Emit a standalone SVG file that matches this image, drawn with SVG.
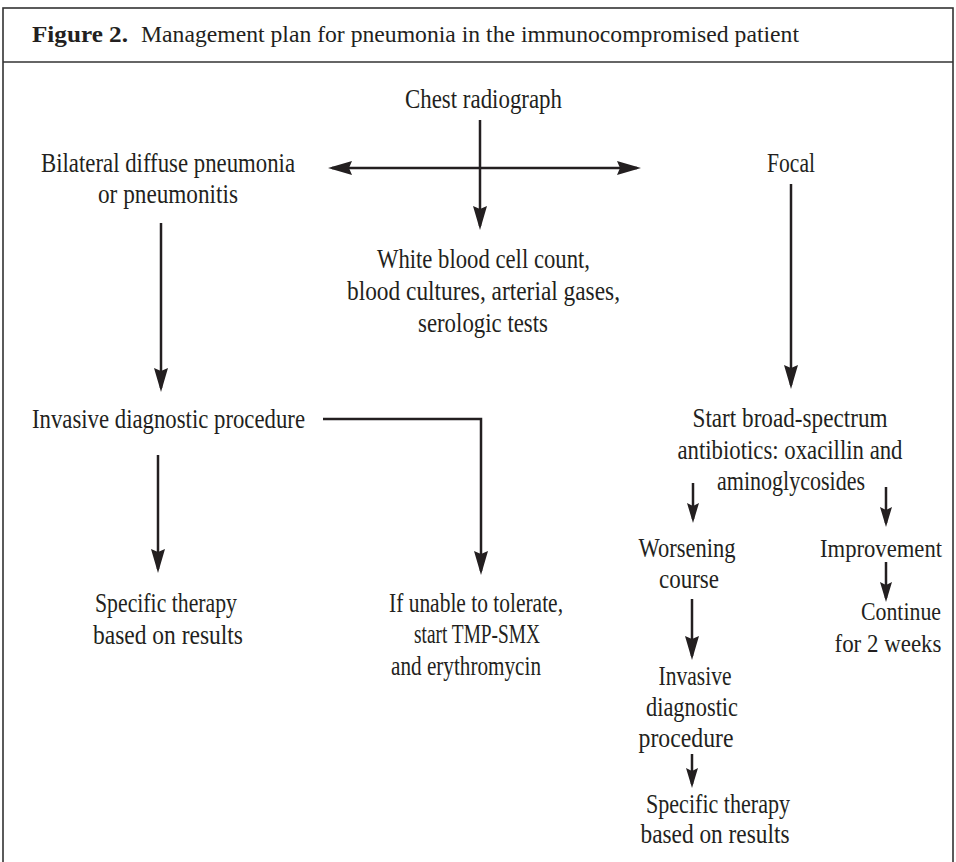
<svg xmlns="http://www.w3.org/2000/svg" width="956" height="862" viewBox="0 0 956 862">
<style>
  .t { font-family: "Liberation Serif", "Times New Roman", serif; font-size: 27px; fill: #231f20; text-anchor: middle; }
  .s { font-size: 25px; }
  .title { font-family: "Liberation Serif", "Times New Roman", serif; font-size: 24px; fill: #231f20; }
  .b { font-weight: bold; }
  .c { fill: none; stroke: #231f20; stroke-width: 2.5; }
  .frame { fill: none; stroke: #333333; stroke-width: 1.6; }
</style>
<defs>
  <marker id="ah" viewBox="0 0 24 14" markerWidth="24" markerHeight="14" refX="20" refY="7" orient="auto-start-reverse" markerUnits="userSpaceOnUse">
    <path d="M0,0 L24,7 L0,14 L3,7 Z" fill="#231f20"/>
  </marker>
  <marker id="ahs" viewBox="0 0 20 12" markerWidth="20" markerHeight="12" refX="16" refY="6" orient="auto" markerUnits="userSpaceOnUse">
    <path d="M0,0 L20,6 L0,12 L3,6 Z" fill="#231f20"/>
  </marker>
</defs>

<g id="frame">
  <rect class="frame" x="3" y="8" width="950" height="880"/>
  <line class="frame" x1="3" y1="62" x2="953" y2="62"/>
</g>

<g id="title">
  <text class="title" y="42"><tspan class="b" x="32" textLength="96" lengthAdjust="spacingAndGlyphs">Figure 2.</tspan><tspan x="141" textLength="658" lengthAdjust="spacingAndGlyphs">Management plan for pneumonia in the immunocompromised patient</tspan></text>
</g>

<g id="connectors">
  <line class="c" x1="332" y1="168" x2="637" y2="168" marker-start="url(#ah)" marker-end="url(#ah)"/>
  <line class="c" x1="480" y1="120" x2="480" y2="226" marker-end="url(#ah)"/>
  <line class="c" x1="161" y1="223" x2="161" y2="388" marker-end="url(#ah)"/>
  <line class="c" x1="791" y1="184" x2="791" y2="385" marker-end="url(#ah)"/>
  <polyline class="c" points="323,419 481,419 481,571" marker-end="url(#ah)"/>
  <line class="c" x1="158" y1="455" x2="158" y2="569" marker-end="url(#ah)"/>
  <line class="c" x1="693" y1="483" x2="693" y2="519" marker-end="url(#ahs)"/>
  <line class="c" x1="886" y1="487" x2="886" y2="523" marker-end="url(#ahs)"/>
  <line class="c" x1="886" y1="562" x2="886" y2="598" marker-end="url(#ahs)"/>
  <line class="c" x1="692" y1="599" x2="692" y2="656" marker-end="url(#ah)"/>
  <line class="c" x1="692" y1="754" x2="692" y2="784" marker-end="url(#ahs)"/>
</g>

<g id="chest">
  <text class="t" x="483.5" y="108" textLength="157" lengthAdjust="spacingAndGlyphs">Chest radiograph</text>
</g>
<g id="bilateral">
  <text class="t" x="168" y="172" textLength="254" lengthAdjust="spacingAndGlyphs">Bilateral diffuse pneumonia</text>
  <text class="t" x="168" y="203" textLength="140" lengthAdjust="spacingAndGlyphs">or pneumonitis</text>
</g>
<g id="focal">
  <text class="t" x="791" y="172" textLength="48" lengthAdjust="spacingAndGlyphs">Focal</text>
</g>
<g id="tests">
  <text class="t" x="483.5" y="268" textLength="213" lengthAdjust="spacingAndGlyphs">White blood cell count,</text>
  <text class="t" x="483.5" y="300" textLength="273" lengthAdjust="spacingAndGlyphs">blood cultures, arterial gases,</text>
  <text class="t" x="483" y="332" textLength="130" lengthAdjust="spacingAndGlyphs">serologic tests</text>
</g>
<g id="invasive1">
  <text class="t" x="168.5" y="428" textLength="273" lengthAdjust="spacingAndGlyphs">Invasive diagnostic procedure</text>
</g>
<g id="specific1">
  <text class="t" x="166" y="612" textLength="142" lengthAdjust="spacingAndGlyphs">Specific therapy</text>
  <text class="t" x="168" y="644" textLength="150" lengthAdjust="spacingAndGlyphs">based on results</text>
</g>
<g id="unable">
  <text class="t" x="476" y="612" textLength="174" lengthAdjust="spacingAndGlyphs">If unable to tolerate,</text>
  <text class="t" x="477" y="643" textLength="126" lengthAdjust="spacingAndGlyphs">start TMP-SMX</text>
  <text class="t" x="466" y="675" textLength="150" lengthAdjust="spacingAndGlyphs">and erythromycin</text>
</g>
<g id="broad">
  <text class="t" x="790" y="427" textLength="195" lengthAdjust="spacingAndGlyphs">Start broad-spectrum</text>
  <text class="t" x="790" y="459" textLength="225" lengthAdjust="spacingAndGlyphs">antibiotics: oxacillin and</text>
  <text class="t" x="791" y="490" textLength="148" lengthAdjust="spacingAndGlyphs">aminoglycosides</text>
</g>
<g id="worsening">
  <text class="t" x="687" y="557" textLength="97" lengthAdjust="spacingAndGlyphs">Worsening</text>
  <text class="t" x="689" y="588" textLength="60" lengthAdjust="spacingAndGlyphs">course</text>
</g>
<g id="improvement">
  <text class="t s" x="881" y="557" textLength="122" lengthAdjust="spacingAndGlyphs">Improvement</text>
</g>
<g id="continue">
  <text class="t s" x="901" y="620" textLength="80" lengthAdjust="spacingAndGlyphs">Continue</text>
  <text class="t s" x="888" y="652" textLength="107" lengthAdjust="spacingAndGlyphs">for 2 weeks</text>
</g>
<g id="invasive2">
  <text class="t" x="695" y="685" textLength="73" lengthAdjust="spacingAndGlyphs">Invasive</text>
  <text class="t" x="692" y="716" textLength="92" lengthAdjust="spacingAndGlyphs">diagnostic</text>
  <text class="t" x="686" y="747" textLength="95" lengthAdjust="spacingAndGlyphs">procedure</text>
</g>
<g id="specific2">
  <text class="t" x="718" y="813" textLength="144" lengthAdjust="spacingAndGlyphs">Specific therapy</text>
  <text class="t" x="715" y="843" textLength="149" lengthAdjust="spacingAndGlyphs">based on results</text>
</g>
</svg>
